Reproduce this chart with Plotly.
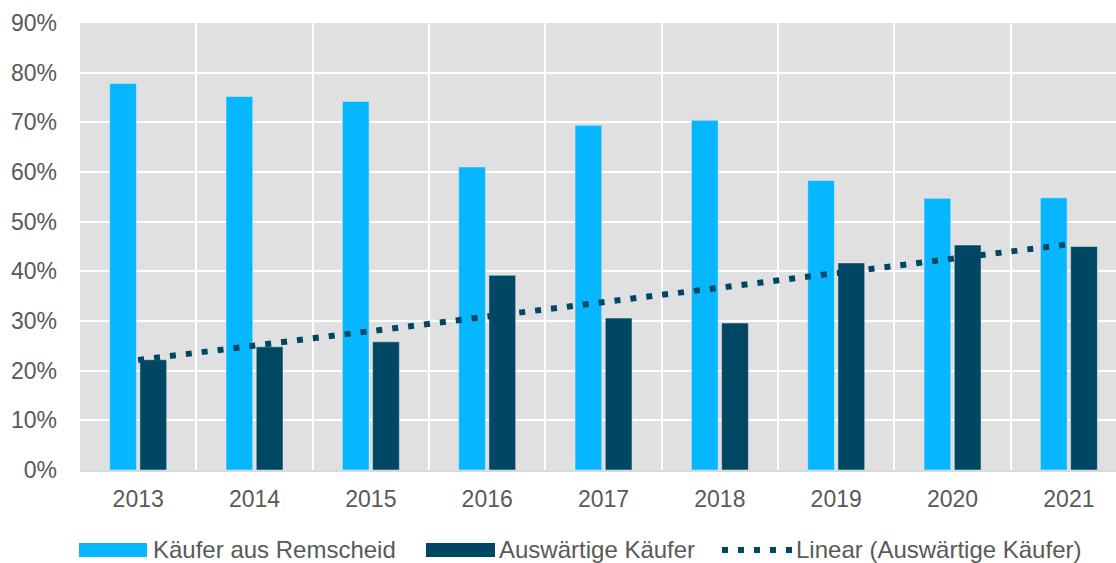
import numpy as np
import plotly.graph_objects as go

years = ["2013", "2014", "2015", "2016", "2017", "2018", "2019", "2020", "2021"]
remscheid = [77.8, 75.2, 74.2, 61.0, 69.4, 70.4, 58.3, 54.7, 54.8]
auswaertig = [22.2, 24.8, 25.8, 39.2, 30.6, 29.6, 41.7, 45.3, 45.0]

LIGHT = "#06b6ff"
DARK = "#004764"
GREY_TXT = "#595959"
FONT = "Liberation Sans, Arial, sans-serif"

# linear trend of the "Auswärtige Käufer" series (like Excel's linear trendline)
idx = np.arange(len(years))
slope, intercept = np.polyfit(idx, auswaertig, 1)
trend = slope * idx + intercept

fig = go.Figure()
fig.add_trace(go.Bar(x=years, y=remscheid, name="Käufer aus Remscheid",
                     marker_color=LIGHT, showlegend=False))
fig.add_trace(go.Bar(x=years, y=auswaertig, name="Auswärtige Käufer",
                     marker_color=DARK, showlegend=False))
fig.add_trace(go.Scatter(x=years, y=trend, mode="lines", name="Linear (Auswärtige Käufer)",
                         line=dict(color=DARK, width=6, dash="6px,10px"), showlegend=False))

# plot area in pixels: x 80..1116, y 23..470
L, R, T, B = 80, 1116, 23, 470
def px(x):
    return (x - L) / (R - L)
def py(y):
    return (B - y) / (B - T)

# hand-made legend so the swatches are wide like the original
ly = 549
shapes = [
    dict(type="rect", xref="paper", yref="paper", x0=px(79), x1=px(147),
         y0=py(557), y1=py(543), fillcolor=LIGHT, line_width=0),
    dict(type="rect", xref="paper", yref="paper", x0=px(426), x1=px(495),
         y0=py(557), y1=py(543), fillcolor=DARK, line_width=0),
    dict(type="line", xref="paper", yref="paper", x0=px(722), x1=px(796),
         y0=py(550), y1=py(550), line=dict(color=DARK, width=6, dash="6px,10px")),
]
labels = [(151, "Käufer aus Remscheid"), (497, "Auswärtige Käufer"),
          (794, "Linear (Auswärtige Käufer)")]
annotations = [dict(x=px(x), y=py(ly), xref="paper", yref="paper", text=t,
                    showarrow=False, xanchor="left", yanchor="middle",
                    font=dict(size=24, color=GREY_TXT, family=FONT))
               for x, t in labels]

fig.update_layout(
    width=1116, height=563,
    margin=dict(l=L, r=0, t=T, b=563 - B, pad=0, autoexpand=False),
    paper_bgcolor="white", plot_bgcolor="#e0e0e0",
    barmode="group", bargap=0.48, bargroupgap=0.116,
    font=dict(family=FONT, size=23, color=GREY_TXT),
    shapes=shapes, annotations=annotations,
)
fig.update_xaxes(type="category", range=[-0.5, 8.405], tickson="boundaries",
                 showgrid=True, gridcolor="white", gridwidth=2,
                 showline=True, linecolor="#d9d9d9", linewidth=2,
                 ticks="", ticklabelstandoff=7, automargin=False)
fig.update_yaxes(range=[0, 90], dtick=10, ticksuffix="%",
                 showgrid=True, gridcolor="white", gridwidth=2,
                 zeroline=False, ticks="", ticklabelstandoff=22, automargin=False)

# page body has a default 8px margin; drop it so the figure sits at the corner
fig.write_html("out.html", config={"displayModeBar": False},
               post_script="document.body.style.margin='0';")
